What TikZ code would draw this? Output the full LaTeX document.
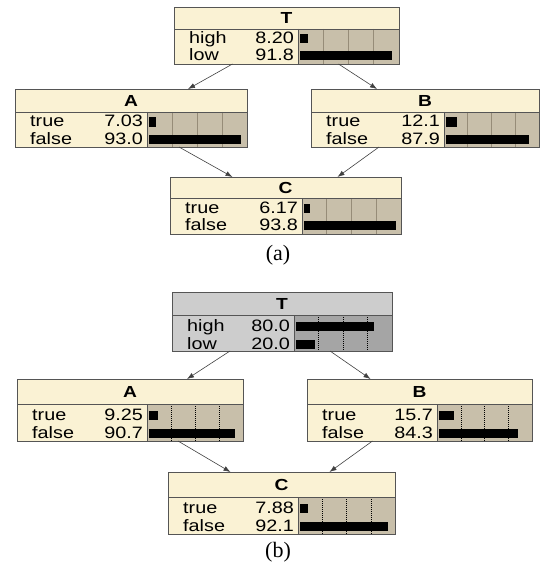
\documentclass[tikz,border=0pt]{standalone}
\usepackage{fontspec}
\usetikzlibrary{arrows.meta}
\newfontfamily\netfont[FakeStretch=1.2]{Liberation Sans}
\newfontfamily\capfont{Liberation Serif}
\definecolor{netcream}{RGB}{250,242,212}
\definecolor{nettan}{RGB}{200,191,170}
\definecolor{netgrid}{RGB}{150,140,120}
\definecolor{netgrey}{RGB}{205,205,205}
\definecolor{netdark}{RGB}{165,165,165}
\definecolor{netborder}{RGB}{85,85,85}

% one belief box: name, left, top, right, title line, bottom, split, title
\newcommand{\bnode}[8]{%
  \def\bN{#1}\def\bL{#2}\def\bR{#4}\def\bS{#7}\def\bT{#5}%
  \fill[headfill] (#2,#3) rectangle (#4,#5);
  \fill[labfill] (#2,#5) rectangle (#7,#6);
  \fill[barfill] (#7,#5) rectangle (#4,#6);
  \foreach \k in {1,2,3}
    \draw[gridline] ({#7+\k*(#4-#7)/4},#5) -- ({#7+\k*(#4-#7)/4},#6);
  \draw[boxline] (#2,#5) -- (#4,#5) (#7,#5) -- (#7,#6);
  \node[titletext] (#1-title) at ({(#2+#4)/2},{(#3+#5)/2}) {#8};
  \pgfmathsetmacro\bW{#4-#2}\pgfmathsetmacro\bH{#6-#3}
  \node[nodebox, minimum width=\bW pt, minimum height=\bH pt] (#1) at (#2,#3) {};
}
% one state row: number, offset below title line, state, value
\newcommand{\brow}[4]{%
  \node[rowtext, anchor=base west] (\bN-s#1) at (\bL+15,\bT+#2+5) {#3};
  \node[rowtext, anchor=base east] (\bN-v#1) at (\bS-4,\bT+#2+5) {#4};
  \fill[black] (\bS+2,\bT+#2-4.5) rectangle ++({#4/100*(\bR-\bS-1)},9);
}

\begin{document}
\begin{tikzpicture}[x=1pt, y=-1pt]
  \tikzset{
    headfill/.style = {fill=netcream},
    labfill/.style = {fill=netcream},
    barfill/.style = {fill=nettan},
    gridline/.style = {draw=netgrid, line width=0.6pt},
    boxline/.style = {draw=netborder, line width=0.7pt},
    nodebox/.style = {draw=netborder, line width=0.8pt, anchor=north west,
      inner sep=0pt, outer sep=0pt},
    titletext/.style = {inner sep=0pt, font=\netfont\bfseries\fontsize{16}{18}\selectfont},
    rowtext/.style = {inner sep=0pt, font=\netfont\fontsize{16.5}{18}\selectfont},
    link/.style = {draw=black!75, line width=0.6pt, -{Latex[length=7pt,width=5pt]}},
    caption/.style = {inner sep=0pt, font=\capfont\fontsize{22}{26}\selectfont}
  }
  \useasboundingbox (0,0) rectangle (542,567);

  % (a)
  \begin{scope}
    \bnode{Ta}{174}{7}{399}{29}{64}{298}{T}
    \brow{1}{10}{high}{8.20}
    \brow{2}{27}{low}{91.8}
    \bnode{Aa}{15}{89}{247}{112}{147}{147}{A}
    \brow{1}{10}{true}{7.03}
    \brow{2}{27}{false}{93.0}
    \bnode{Ba}{311}{89}{539}{112}{147}{444}{B}
    \brow{1}{10}{true}{12.1}
    \brow{2}{27}{false}{87.9}
    \bnode{Ca}{170}{177}{401}{198}{234}{302}{C}
    \brow{1}{10}{true}{6.17}
    \brow{2}{27}{false}{93.8}
    \draw[link] ([xshift=-54pt]Ta.south) -- ([xshift=57pt]Aa.north);
    \draw[link] ([xshift=52pt]Ta.south) -- ([xshift=-48pt]Ba.north);
    \draw[link] ([xshift=48pt]Aa.south) -- ([xshift=-53pt]Ca.north);
    \draw[link] ([xshift=-46pt]Ba.south) -- ([xshift=52pt]Ca.north);
    \node[caption] (capa) at (278,255) {(a)};
  \end{scope}

  % (b)
  \begin{scope}[gridline/.style={draw=black, line width=0.5pt, dash pattern=on 1pt off 1pt}]
    \begin{scope}[headfill/.style={fill=netgrey}, labfill/.style={fill=netgrey},
      barfill/.style={fill=netdark}]
      \bnode{Tb}{172}{292}{392}{315}{351}{294}{T}
      \brow{1}{11}{high}{80.0}
      \brow{2}{29}{low}{20.0}
    \end{scope}
    \bnode{Ab}{17}{379}{243}{404}{441}{147}{A}
    \brow{1}{11}{true}{9.25}
    \brow{2}{29}{false}{90.7}
    \bnode{Bb}{307}{379}{532}{404}{441}{437}{B}
    \brow{1}{11}{true}{15.7}
    \brow{2}{29}{false}{84.3}
    \bnode{Cb}{168}{472}{395}{497}{534}{298}{C}
    \brow{1}{11}{true}{7.88}
    \brow{2}{29}{false}{92.1}
    \draw[link] ([xshift=-52pt]Tb.south) -- ([xshift=57pt]Ab.north);
    \draw[link] ([xshift=48pt]Tb.south) -- ([xshift=-49pt]Bb.north);
    \draw[link] ([xshift=48pt]Ab.south) -- ([xshift=-51pt]Cb.north);
    \draw[link] ([xshift=-47pt]Bb.south) -- ([xshift=48pt]Cb.north);
    \node[caption] (capb) at (278,552) {(b)};
  \end{scope}
\end{tikzpicture}
\end{document}
